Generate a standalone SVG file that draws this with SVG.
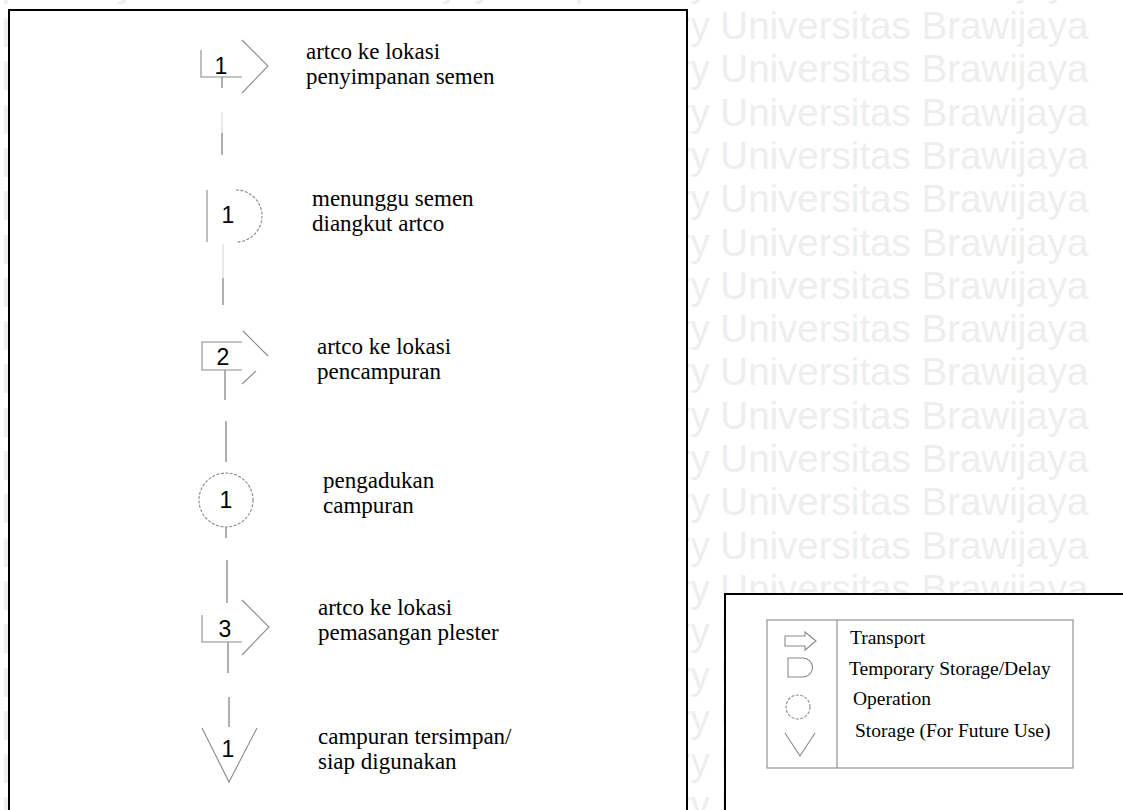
<svg xmlns="http://www.w3.org/2000/svg" xmlns:xlink="http://www.w3.org/1999/xlink" width="1123" height="810" viewBox="0 0 1123 810">
<style>
.wm{font-family:"Liberation Sans",Arial,sans-serif;font-size:38.5px;fill:#eeeeee}
.frame{fill:#ffffff;stroke:#000000;stroke-width:2}
.sym{fill:none;stroke:#8a8a8a;stroke-width:1.1}
.dot{fill:none;stroke:#8a8a8a;stroke-width:1.1;stroke-dasharray:3 1.5}
.num{font-family:"Liberation Sans",Arial,sans-serif;font-size:23px;fill:#000000;text-anchor:middle}
.lbl{font-family:"Liberation Serif","Times New Roman",serif;font-size:23px;fill:#000000}
.leg{font-family:"Liberation Serif","Times New Roman",serif;font-size:19.5px;fill:#000000}
.con{stroke:#6e6e6e;stroke-width:1.1;fill:none}
.faint{stroke:#d8d8d8;stroke-width:1.1;fill:none}
</style>
<defs>
<text id="wmline" class="wm" x="-47.8" y="0">Repository Universitas Brawijaya Repository Universitas Brawijaya</text>
</defs>
<rect x="0" y="0" width="1123" height="810" fill="#ffffff"/>
<g id="watermark">
<use xlink:href="#wmline" y="-4.3"/>
<use xlink:href="#wmline" y="39"/>
<use xlink:href="#wmline" y="82.3"/>
<use xlink:href="#wmline" y="125.6"/>
<use xlink:href="#wmline" y="168.9"/>
<use xlink:href="#wmline" y="212.2"/>
<use xlink:href="#wmline" y="255.5"/>
<use xlink:href="#wmline" y="298.8"/>
<use xlink:href="#wmline" y="342.1"/>
<use xlink:href="#wmline" y="385.4"/>
<use xlink:href="#wmline" y="428.7"/>
<use xlink:href="#wmline" y="472"/>
<use xlink:href="#wmline" y="515.3"/>
<use xlink:href="#wmline" y="558.6"/>
<use xlink:href="#wmline" y="601.9"/>
<use xlink:href="#wmline" y="645.2"/>
<use xlink:href="#wmline" y="688.5"/>
<use xlink:href="#wmline" y="731.8"/>
<use xlink:href="#wmline" y="775.1"/>
<use xlink:href="#wmline" y="818.4"/>
</g>
<rect class="frame" x="9" y="10" width="678" height="820"/>
<rect class="frame" x="725" y="594" width="420" height="240"/>

<g id="connectors">
<line class="con" x1="222" y1="77" x2="222" y2="88"/>
<line class="faint" x1="222" y1="112" x2="222" y2="133"/>
<line class="con" x1="222" y1="133" x2="222" y2="155"/>
<line class="faint" x1="223" y1="244" x2="223" y2="278"/>
<line class="con" x1="223" y1="278" x2="223" y2="305"/>
<line class="con" x1="225" y1="370" x2="225" y2="400"/>
<line class="con" x1="226" y1="421" x2="226" y2="462"/>
<line class="con" x1="226" y1="527" x2="226" y2="538"/>
<line class="con" x1="227" y1="560" x2="227" y2="603"/>
<line class="con" x1="228" y1="642" x2="228" y2="673"/>
<line class="con" x1="229" y1="697" x2="229" y2="727"/>
</g>

<g id="step1-transport">
<path class="sym" d="M201,50 V77 H242"/>
<path class="sym" d="M242,40 L268,66 L242,93"/>
<text class="num" x="221" y="74">1</text>
<text class="lbl" x="306" y="59">artco ke lokasi</text>
<text class="lbl" x="306" y="84">penyimpanan semen</text>
</g>

<g id="step2-delay">
<line class="sym" x1="207" y1="190" x2="207" y2="242"/>
<path class="dot" d="M236,190 A26,26 0 0 1 236,242"/>
<text class="num" x="228" y="223">1</text>
<text class="lbl" x="312" y="206">menunggu semen</text>
<text class="lbl" x="312" y="231">diangkut artco</text>
</g>

<g id="step3-transport">
<path class="sym" d="M242,342 H202 V370 H242"/>
<path class="sym" d="M243,331 L268,356"/>
<path class="sym" d="M256,371 L242,384"/>
<text class="num" x="223" y="365">2</text>
<text class="lbl" x="317" y="354">artco ke lokasi</text>
<text class="lbl" x="317" y="379">pencampuran</text>
</g>

<g id="step4-operation">
<circle class="dot" cx="226" cy="500" r="27"/>
<text class="num" x="226" y="508">1</text>
<text class="lbl" x="323" y="488">pengadukan</text>
<text class="lbl" x="323" y="513">campuran</text>
</g>

<g id="step5-transport">
<path class="sym" d="M202,615 V642 H242"/>
<path class="sym" d="M242,600 L269,627 L242,655"/>
<text class="num" x="225" y="637">3</text>
<text class="lbl" x="318" y="615">artco ke lokasi</text>
<text class="lbl" x="318" y="640">pemasangan plester</text>
</g>

<g id="step6-storage">
<path class="sym" d="M202,728 L229,782 L257,728"/>
<text class="num" x="228" y="757">1</text>
<text class="lbl" x="318" y="744">campuran tersimpan/</text>
<text class="lbl" x="318" y="769">siap digunakan</text>
</g>

<g id="legend">
<rect class="sym" x="767" y="620" width="306" height="148"/>
<line class="sym" x1="837" y1="620" x2="837" y2="768"/>
<path class="sym" d="M785,636 H805 V632 L816,641 L805,650 V646 H785 Z"/>
<path class="sym" d="M788,658 H803 A9.5,9.5 0 0 1 803,677 H788 Z"/>
<circle class="dot" cx="798" cy="707" r="12"/>
<path class="sym" d="M785,733 L800,756 L815,733"/>
<text class="leg" x="850" y="644">Transport</text>
<text class="leg" x="849" y="675">Temporary Storage/Delay</text>
<text class="leg" x="853" y="705">Operation</text>
<text class="leg" x="855" y="737">Storage (For Future Use)</text>
</g>
</svg>
